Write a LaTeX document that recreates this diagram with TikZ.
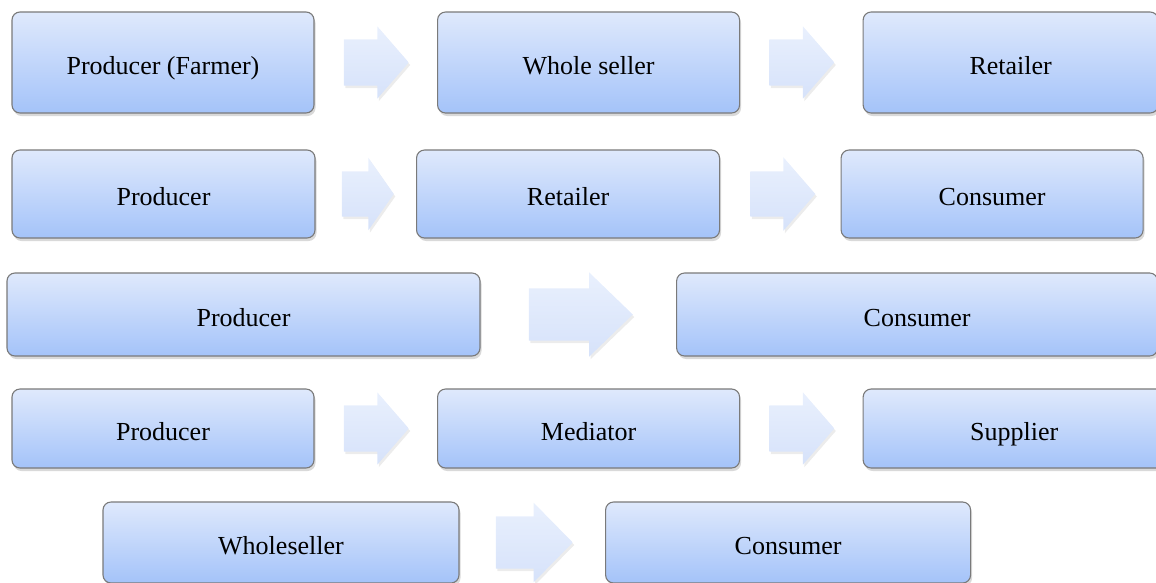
\documentclass[tikz,border=0pt]{standalone}
\usepackage{fontspec}
\setmainfont{Liberation Serif}
\usepackage{xcolor}
\usepackage{tikz}
\usetikzlibrary{positioning,shapes.arrows,shadows}
\definecolor{boxtop}{HTML}{DFE9FC}
\definecolor{boxbottom}{HTML}{A4C3F9}
\definecolor{rim}{HTML}{7A7A7A}
\definecolor{arrowtop}{HTML}{E9F0FD}
\definecolor{arrowbottom}{HTML}{D6E2FA}
\tikzset{
  stage/.style={draw=rim,line width=1.1pt,rounded corners=8pt,top color=boxtop,
    bottom color=boxbottom,minimum height=#1,inner sep=0pt,
    font=\fontsize{26}{30}\selectfont,text height=23pt,text depth=0pt,
    drop shadow={shadow xshift=1.5pt,shadow yshift=-3pt,opacity=0.3}},
  flowarrow/.style={single arrow,draw=none,top color=arrowtop,bottom color=arrowbottom,
    inner xsep=0pt,inner ysep=23pt,minimum height=65pt,
    single arrow head extend=13pt,single arrow tip angle=98,
    drop shadow={shadow xshift=1.5pt,shadow yshift=-2.5pt,opacity=0.15}}
}

\begin{document}
\begin{tikzpicture}[x=1pt,y=-1pt]
  \useasboundingbox (0,0) rectangle (1156,582);
  % chain one
  \node[stage=101pt,minimum width=302pt] (farmerA) at (163,62.5) {Producer (Farmer)};
  \node[flowarrow,right=29pt of farmerA] (arrowA1) {};
  \node[stage=101pt,minimum width=302pt,right=28pt of arrowA1] (wholesellerA) {Whole seller};
  \node[flowarrow,right=29pt of wholesellerA] (arrowA2) {};
  \node[stage=101pt,minimum width=295pt,right=28pt of arrowA2] (retailerA) {Retailer};
  % chain two
  \node[stage=88pt,minimum width=303pt] (producerB) at (163.5,194) {Producer};
  \node[flowarrow,right=26pt of producerB,minimum height=52pt,inner ysep=22.5pt,
    single arrow head extend=13.5pt,single arrow tip angle=110] (arrowB1) {};
  \node[stage=88pt,minimum width=303pt,right=22pt of arrowB1] (retailerB) {Retailer};
  \node[flowarrow,right=30pt of retailerB,inner ysep=22.5pt,
    single arrow head extend=14pt] (arrowB2) {};
  \node[stage=88pt,minimum width=302pt,right=25pt of arrowB2] (consumerB) {Consumer};
  % chain three
  \node[stage=83pt,minimum width=473pt] (producerC) at (243.5,314.5) {Producer};
  \node[flowarrow,right=48pt of producerC,minimum height=104pt,inner ysep=26pt,
    single arrow head extend=16pt,single arrow tip angle=88] (arrowC1) {};
  \node[stage=83pt,minimum width=481pt,right=43pt of arrowC1] (consumerC) {Consumer};
  % chain four
  \node[stage=79pt,minimum width=302pt] (producerD) at (163,428.5) {Producer};
  \node[flowarrow,right=29pt of producerD] (arrowD1) {};
  \node[stage=79pt,minimum width=302pt,right=28pt of arrowD1] (mediatorD) {Mediator};
  \node[flowarrow,right=29pt of mediatorD] (arrowD2) {};
  \node[stage=79pt,minimum width=302pt,right=28pt of arrowD2] (supplierD) {Supplier};
  % chain five
  \node[stage=81pt,minimum width=356pt] (wholesellerE) at (281,542.5) {Wholeseller};
  \node[flowarrow,right=36pt of wholesellerE,minimum height=77pt,inner ysep=26pt,
    single arrow head extend=13.5pt,single arrow tip angle=91] (arrowE1) {};
  \node[stage=81pt,minimum width=365pt,right=32pt of arrowE1] (consumerE) {Consumer};
\end{tikzpicture}
\end{document}
